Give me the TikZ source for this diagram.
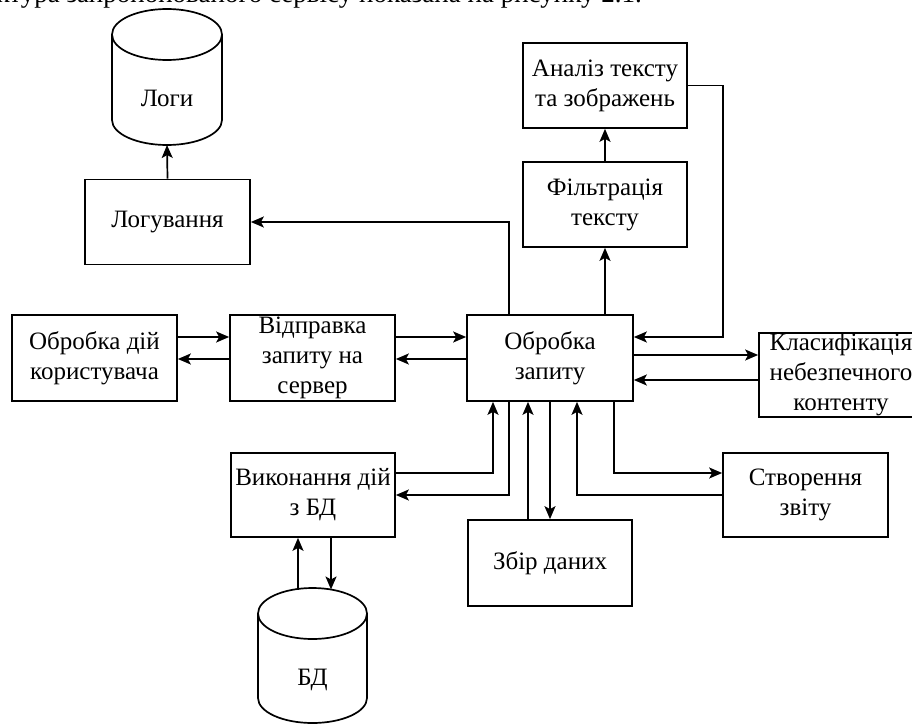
\documentclass[tikz,border=0pt]{standalone}
\usepackage{fontspec}
\setmainfont{Liberation Serif}
\usetikzlibrary{arrows.meta}
\begin{document}
\begin{tikzpicture}[x=1pt,y=-1pt,
  font=\fontsize{25}{30}\selectfont,
  box/.style={draw, line width=1.7pt, minimum width=165pt, minimum height=85pt, inner sep=0pt, align=center},
  conn/.style={line width=1.7pt, -{Stealth[length=13pt,width=11pt,inset=3pt]}},
  cyl/.style={line width=1.7pt}]
\useasboundingbox (0,0) rectangle (912,725);

% caption (cut off at top of the picture)
\node[anchor=base west, inner sep=0pt, font=\fontsize{27}{31}\selectfont] (cap) at (-60,3) {Структура запропонованого сервісу показана на рисунку 2.1.};

% cylinders
\draw[cyl] (167,34.5) ellipse [x radius=55pt, y radius=25.5pt];
\draw[cyl] (112,34.5) -- (112,120) arc [start angle=180, end angle=360, x radius=55pt, y radius=25pt] -- (222,34.5);
\node (logs) at (167,98) {Логи};
\coordinate (logsb) at (167,145);

\draw[cyl] (312.5,613.5) ellipse [x radius=54.5pt, y radius=25.5pt];
\draw[cyl] (258,613.5) -- (258,698) arc [start angle=180, end angle=360, x radius=54.5pt, y radius=25pt] -- (367,613.5);
\node (dbc) at (312.5,680) {БД};
\coordinate (dbt1) at (298,589.5);
\coordinate (dbt2) at (331,589.5);

% boxes
\node[box] (log) at (167.5,222) {Логування};
\node[box, minimum height=86pt] (act) at (94.5,358) {Обробка дій\\користувача};
\node[box, minimum height=86pt] (send) at (312.5,358) {Відправка\\запиту на\\сервер};
\node[box, minimum width=166pt, minimum height=86pt] (proc) at (550,358) {Обробка\\запиту};
\node[box, minimum width=164pt] (filt) at (605,204.5) {Фільтрація\\тексту};
\node[box, minimum width=164pt] (anal) at (605,85.5) {Аналіз тексту\\та зображень};
\node[box, minimum width=164pt, minimum height=84pt] (cls) at (841,375) {Класифікація\\небезпечного\\контенту};
\node[box, minimum height=84pt] (rep) at (805.5,495) {Створення\\звіту};
\node[box, minimum width=164pt, minimum height=86pt] (col) at (550,563) {Збір даних};
\node[box, minimum width=164pt, minimum height=84pt] (db) at (313,495) {Виконання дій\\з БД};

\coordinate (ar) at (723,337);

% connectors
\draw[conn] (log.north) -- (logsb);
\draw[conn] ([yshift=21pt]act.east) -- ([yshift=21pt]send.west);
\draw[conn] ([yshift=-1pt]send.west) -- ([yshift=-1pt]act.east);
\draw[conn] ([yshift=21pt]send.east) -- ([yshift=21pt]proc.west);
\draw[conn] ([yshift=-1pt]proc.west) -- ([yshift=-1pt]send.east);
\draw[conn] ([xshift=-41pt]proc.north) |- (log.east);
\draw[conn] ([xshift=55pt]proc.north) -- (filt.south);
\draw[conn] (filt.north) -- (anal.south);
\draw[conn] (anal.east) -| (ar) -- ([yshift=21pt]proc.east);
\draw[conn] ([yshift=3pt]proc.east) -- ([yshift=20pt]cls.west);
\draw[conn] ([yshift=-5pt]cls.west) -- ([yshift=-22pt]proc.east);
\draw[conn] ([yshift=22pt]db.east) -| ([xshift=-57pt]proc.south);
\draw[conn] ([xshift=-41pt]proc.south) |- (db.east);
\draw[conn] ([xshift=-22pt]col.north) -- ([xshift=-22pt]proc.south);
\draw[conn] (proc.south) -- (col.north);
\draw[conn] (rep.west) -| ([xshift=27pt]proc.south);
\draw[conn] ([xshift=64pt]proc.south) |- ([yshift=22pt]rep.west);
\draw[conn] (dbt1) -- ([xshift=-15pt]db.south);
\draw[conn] ([xshift=18pt]db.south) -- (dbt2);
\end{tikzpicture}
\end{document}
